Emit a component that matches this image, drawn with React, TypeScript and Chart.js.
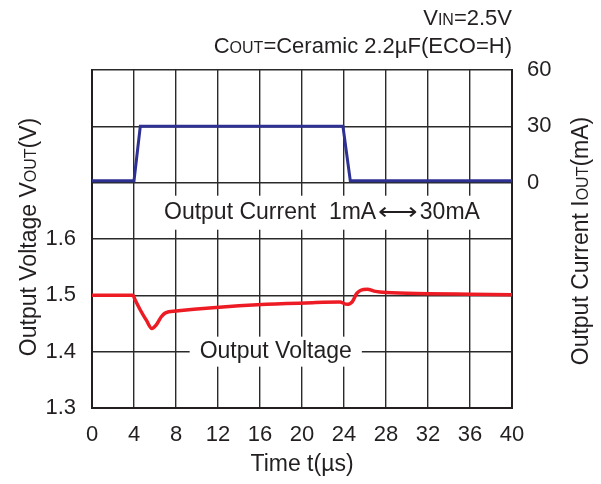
import React, { useEffect, useRef } from "react";
import { Chart, registerables } from "chart.js";

Chart.register(...registerables);

// ---- data ----
const voltTime = [0, 3.9, 4.1, 4.6, 5.2, 5.7, 6.1, 6.6, 7.0, 8, 11.5, 16.6, 21, 23.6, 24.3, 24.8, 25.2, 25.6, 26.2, 27.0, 28, 32, 36, 40];
const voltage = [1.5, 1.5, 1.492, 1.474, 1.455, 1.441, 1.447, 1.462, 1.469, 1.472, 1.478, 1.484, 1.487, 1.488, 1.484, 1.489, 1.503, 1.509, 1.511, 1.507, 1.505, 1.503, 1.502, 1.501];
const currTime = [0, 4.0, 4.6, 23.9, 24.6, 40];
const current = [1, 1, 30, 30, 1, 1];
const xTickValues = [0, 4, 8, 12, 16, 20, 24, 28, 32, 36, 40];
const voltTickLabels = ["1.3", "1.4", "1.5", "1.6"];
const currTickLabels = ["0", "30", "60"];

const FONT = "'Liberation Sans', Arial, Helvetica, sans-serif";
const TXT = "#231f20";

function drawParts(ctx: CanvasRenderingContext2D, parts: [string, number][], x: number, y: number, align: "left" | "center" | "right") {
  let total = 0;
  for (const [s, sz] of parts) {
    ctx.font = `${sz}px ${FONT}`;
    total += ctx.measureText(s).width;
  }
  let cx = align === "left" ? x : align === "center" ? x - total / 2 : x - total;
  ctx.textAlign = "left";
  ctx.textBaseline = "alphabetic";
  for (const [s, sz] of parts) {
    ctx.font = `${sz}px ${FONT}`;
    ctx.fillText(s, cx, y);
    cx += ctx.measureText(s).width;
  }
  return total;
}

const annotations = {
  id: "annotations",
  beforeDatasetsDraw(chart: any) {
    const { ctx, scales } = chart;
    const x = scales.x;
    const yV = scales.yV;
    const yI = scales.yI;
    ctx.save();
    ctx.fillStyle = TXT;
    // label: output current
    const cx1 = x.getPixelForValue(21.9);
    const cy1 = yI.getPixelForValue(-16);
    ctx.font = `23px ${FONT}`;
    const p1 = "Output Current  1mA";
    const p2 = "⟷";
    const p3 = "30mA";
    const arrowScale = 1.2;
    const w1 = ctx.measureText(p1).width;
    const w2 = ctx.measureText(p2).width * arrowScale;
    const w3 = ctx.measureText(p3).width;
    const tot = w1 + w2 + w3 + 4;
    ctx.fillStyle = "#ffffff";
    ctx.fillRect(cx1 - tot / 2 - 8, cy1 - 17, tot + 16, 34);
    ctx.fillStyle = TXT;
    ctx.textBaseline = "middle";
    ctx.textAlign = "left";
    let sx = cx1 - tot / 2;
    ctx.fillText(p1, sx, cy1);
    sx += w1 + 2;
    ctx.save();
    ctx.translate(sx, cy1);
    ctx.scale(arrowScale, 1);
    ctx.fillText(p2, 0, 0);
    ctx.restore();
    sx += w2 + 2;
    ctx.fillText(p3, sx, cy1);

    // label: output voltage
    ctx.font = `23px ${FONT}`;
    const cx2 = x.getPixelForValue(17.5);
    const cy2 = yV.getPixelForValue(1.4);
    const t2 = "Output Voltage";
    const w = ctx.measureText(t2).width;
    ctx.fillStyle = "#ffffff";
    ctx.fillRect(cx2 - w / 2 - 10, cy2 - 15, w + 20, 30);
    ctx.fillStyle = TXT;
    ctx.textAlign = "center";
    ctx.fillText(t2, cx2, cy2);
    ctx.restore();
  },
  afterDraw(chart: any) {
    const { ctx, chartArea } = chart;
    ctx.save();
    ctx.fillStyle = TXT;
    // header
    drawParts(ctx, [["V", 22], ["IN", 16], ["=2.5V", 22]], chartArea.right, 25, "right");
    drawParts(ctx, [["C", 22], ["OUT", 16], ["=Ceramic 2.2µF(ECO=H)", 22]], chartArea.right, 53, "right");
    // left title
    ctx.save();
    ctx.translate(28, 237);
    ctx.rotate(-Math.PI / 2);
    drawParts(ctx, [["Output Voltage V", 23], ["OUT", 16], ["(V)", 23]], 0, 8, "center");
    ctx.restore();
    // right title
    ctx.save();
    ctx.translate(580, 241);
    ctx.rotate(-Math.PI / 2);
    drawParts(ctx, [["Output Current I", 23], ["OUT", 16], ["(mA)", 23]], 0, 8, "center");
    ctx.restore();
    // x title
    ctx.font = `23px ${FONT}`;
    ctx.textAlign = "center";
    ctx.textBaseline = "middle";
    ctx.fillText("Time t(µs)", (chartArea.left + chartArea.right) / 2, 465);
    ctx.restore();
  },
};

export default function App() {
  const ref = useRef<HTMLCanvasElement | null>(null);
  useEffect(() => {
    document.body.style.margin = "0";
    const canvas = ref.current!;
    const chart = new Chart(canvas, {
      type: "line",
      data: {
        datasets: [
          {
            label: "Output Current",
            data: currTime.map((t, i) => ({ x: t, y: current[i] })),
            yAxisID: "yI",
            borderColor: "#2e3192",
            borderWidth: 3,
            pointRadius: 0,
            tension: 0,
          },
          {
            label: "Output Voltage",
            data: voltTime.map((t, i) => ({ x: t, y: voltage[i] })),
            yAxisID: "yV",
            borderColor: "#ed1c24",
            borderWidth: 3.5,
            pointRadius: 0,
            cubicInterpolationMode: "monotone",
          },
        ],
      },
      options: {
        responsive: false,
        animation: false,
        devicePixelRatio: 1,
        layout: { padding: { top: 70, left: 0, right: 0, bottom: 0 } },
        plugins: { legend: { display: false }, tooltip: { enabled: false }, title: { display: false } },
        scales: {
          x: {
            type: "linear",
            min: 0,
            max: 40,
            afterBuildTicks: (s: any) => {
              s.ticks = xTickValues.map((v) => ({ value: v }));
            },
            afterFit: (s: any) => {
              s.height = 76;
            },
            ticks: { font: { family: FONT, size: 22 }, color: TXT, padding: 14, maxRotation: 0, autoSkip: false },
            grid: { color: "#2a2a2a", lineWidth: 1.4, drawTicks: false },
            border: { color: "#231f20", width: 2 },
          },
          yV: {
            type: "linear",
            position: "left",
            min: 1.3,
            max: 1.9,
            afterBuildTicks: (s: any) => {
              s.ticks = [1.3, 1.4, 1.5, 1.6, 1.7, 1.8, 1.9].map((v) => ({ value: v }));
            },
            afterFit: (s: any) => {
              s.width = 92;
            },
            ticks: {
              font: { family: FONT, size: 22 },
              color: TXT,
              padding: 16,
              callback: (v: any) => {
                const l = Number(v).toFixed(1);
                return voltTickLabels.includes(l) ? l : "";
              },
            },
            grid: { color: "#2a2a2a", lineWidth: 1.4, drawTicks: false },
            border: { color: "#231f20", width: 2 },
          },
          yI: {
            type: "linear",
            position: "right",
            min: -120,
            max: 60,
            afterBuildTicks: (s: any) => {
              s.ticks = [-120, -90, -60, -30, 0, 30, 60].map((v) => ({ value: v }));
            },
            afterFit: (s: any) => {
              s.width = 89;
            },
            ticks: {
              font: { family: FONT, size: 22 },
              color: TXT,
              padding: 15,
              callback: (v: any) => {
                const l = String(Math.round(Number(v)));
                return currTickLabels.includes(l) ? l : "";
              },
            },
            grid: { display: false, drawTicks: false },
            border: { color: "#231f20", width: 2 },
          },
        },
      },
      plugins: [annotations],
    } as any);
    return () => chart.destroy();
  }, []);
  return (
    <div style={{ width: 601, height: 484, background: "#fff" }}>
      <canvas ref={ref} width={601} height={484} style={{ display: "block" }} />
    </div>
  );
}
